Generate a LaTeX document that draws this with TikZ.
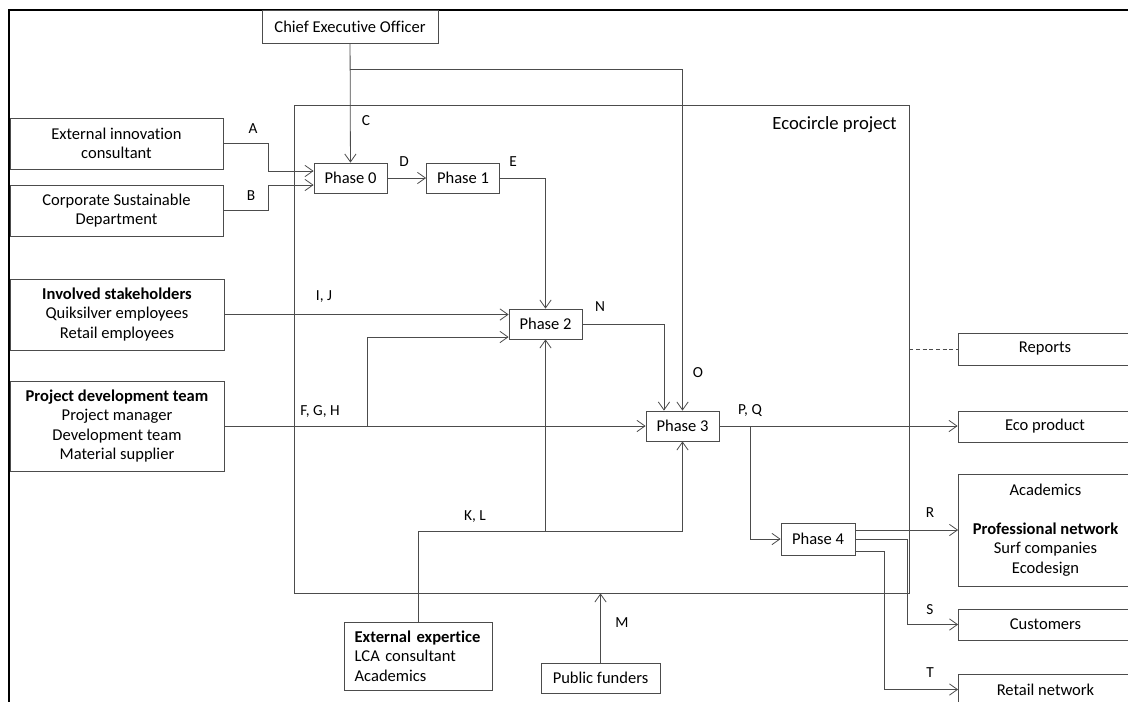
\documentclass[tikz,border=0pt]{standalone}
\usepackage{fontspec}
\setmainfont{Carlito}[Ligatures={NoCommon}]
\usepackage{tikz}
\usetikzlibrary{arrows.meta,positioning,calc}
\definecolor{linegray}{gray}{0.3}
\tikzset{
    stagebox/.style={draw=linegray, line width=0.6pt, inner sep=0pt, align=center, font=\fontsize{12.4}{14.6}\selectfont},
    phasebox/.style={stagebox, minimum width=54.75pt, minimum height=22.5pt},
    outbox/.style={stagebox, minimum width=130.5pt, minimum height=23.25pt},
    flow/.style={draw=linegray, line width=0.6pt, -{Straight Barb[length=6pt,width=8.5pt]}},
    flowlabel/.style={inner sep=0pt, font=\fontsize{11.5}{13}\selectfont}
}

\begin{document}
\begin{tikzpicture}[x=0.75pt, y=-0.75pt]
    \useasboundingbox (0,0) rectangle (1128,701);
    \clip (0,0) rectangle (1128,701);
    \draw[line width=1.6pt] (9,740) -- (9,10) -- (1150,10);

    % project frame
    \node[stagebox, minimum width=461.25pt, minimum height=366pt] (proj) at (601.5,349) {};
    \node[anchor=east, inner sep=0pt, font=\fontsize{14}{16}\selectfont] (projname) at (897,125) {Ecocircle project};

    % actors on the left and above
    \node[stagebox, minimum width=132pt, minimum height=24.75pt] (ceo) at (350,26.5) {Chief Executive Officer};
    \node[stagebox, minimum width=159.75pt, minimum height=38.25pt] (eic) at (116.5,143.5) {External innovation\\consultant};
    \node[stagebox, minimum width=159.75pt, minimum height=38.25pt] (csd) at (116.5,210.5) {Corporate Sustainable\\Department};
    \node[stagebox, minimum width=160.5pt, minimum height=53.25pt] (inv) at (117,314.5) {\textbf{Involved stakeholders}\\Quiksilver employees\\Retail employees};
    \node[stagebox, minimum width=160.5pt, minimum height=67.5pt] (pdt) at (117,426) {\textbf{Project development team}\\Project manager\\Development team\\Material supplier};
    \node[stagebox, align=left, text width=95pt, inner xsep=8pt, minimum height=51pt] (ext) at (418,656) {\textbf{External expertice}\\LCA consultant\\Academics};
    \node[stagebox, minimum width=89.25pt, minimum height=22.5pt] (pub) at (600.5,678) {Public funders};

    % phases
    \node[phasebox] (ph0) at (350.5,178) {Phase 0};
    \node[phasebox] (ph1) at (463,178) {Phase 1};
    \node[phasebox] (ph2) at (545.5,324) {Phase 2};
    \node[phasebox] (ph3) at (682.5,426) {Phase 3};
    \node[phasebox, minimum width=55.5pt, minimum height=24pt] (ph4) at (818,539) {Phase 4};

    % outputs on the right
    \node[outbox, minimum height=24pt] (rep) at (1045,349) {Reports};
    \node[outbox] (ecop) at (1045,426.5) {Eco product};
    \node[outbox, minimum height=84pt] (acad) at (1045.5,530) {Academics\\[14.6pt]\textbf{Professional network}\\Surf companies\\Ecodesign};
    \node[outbox] (cust) at (1045.5,624.5) {Customers};
    \node[outbox] (ret) at (1045.5,689.5) {Retail network};

    % branch points
    \coordinate (cbr) at (350,69);
    \coordinate (fgh) at (367,426);
    \coordinate (klc) at (545.5,531);
    \coordinate (pq) at (750,426);

    % flows
    \draw[flow] (ceo) -- (ph0);
    \draw[flow] (cbr) -| (ph3.north);
    \draw[flow] (eic.east) -- ++(45,0) |- ([yshift=5.25pt]ph0.west);
    \draw[flow] (csd.east) -- ++(45,0) |- ([yshift=-5.25pt]ph0.west);
    \draw[flow] (ph0) -- (ph1);
    \draw[flow] (ph1.east) -| (ph2.north);
    \draw[flow] (inv.east) -- (inv.east -| ph2.west);
    \draw[flow] (pdt.east) -- (pdt.east -| ph3.west);
    \draw[flow] (fgh) |- ([yshift=-9.75pt]ph2.west);
    \draw[flow] (ph2.east) -| ([xshift=-13.9pt]ph3.north);
    \draw[flow] (ext.north) |- (klc) -| (ph3.south);
    \draw[flow] (klc) -- (ph2.south);
    \draw[flow] (pub.north) -- (pub.north |- proj.south);
    \draw[flow] (ph3.east) -- (ph3.east -| ecop.west);
    \draw[flow] (pq) |- (ph4.west);
    \draw[draw=linegray, line width=0.6pt, densely dashed] (proj.east) -- (rep.west);
    \draw[flow] ([yshift=6.75pt]ph4.east) -- (ph4.east |- acad.west) -- (acad.west);
    \draw[flow] (ph4.east) -- ++(52,0) |- (cust.west);
    \draw[flow] ([yshift=-9pt]ph4.east) -- ++(29,0) |- (ret.west);

    % flow labels
    \node[flowlabel] (lA) at (253,129) {A};
    \node[flowlabel] (lB) at (251,196) {B};
    \node[flowlabel] (lC) at (366,121) {C};
    \node[flowlabel] (lD) at (404,162) {D};
    \node[flowlabel] (lE) at (513,162) {E};
    \node[flowlabel] (lIJ) at (324,297) {I, J};
    \node[flowlabel] (lFGH) at (320,411) {F, G, H};
    \node[flowlabel] (lKL) at (475,517) {K, L};
    \node[flowlabel] (lM) at (622,623) {M};
    \node[flowlabel] (lN) at (600,307) {N};
    \node[flowlabel] (lO) at (698,373) {O};
    \node[flowlabel] (lPQ) at (750,411) {P, Q};
    \node[flowlabel] (lR) at (930,513) {R};
    \node[flowlabel] (lS) at (930,610) {S};
    \node[flowlabel] (lT) at (930,673) {T};
\end{tikzpicture}
\end{document}
